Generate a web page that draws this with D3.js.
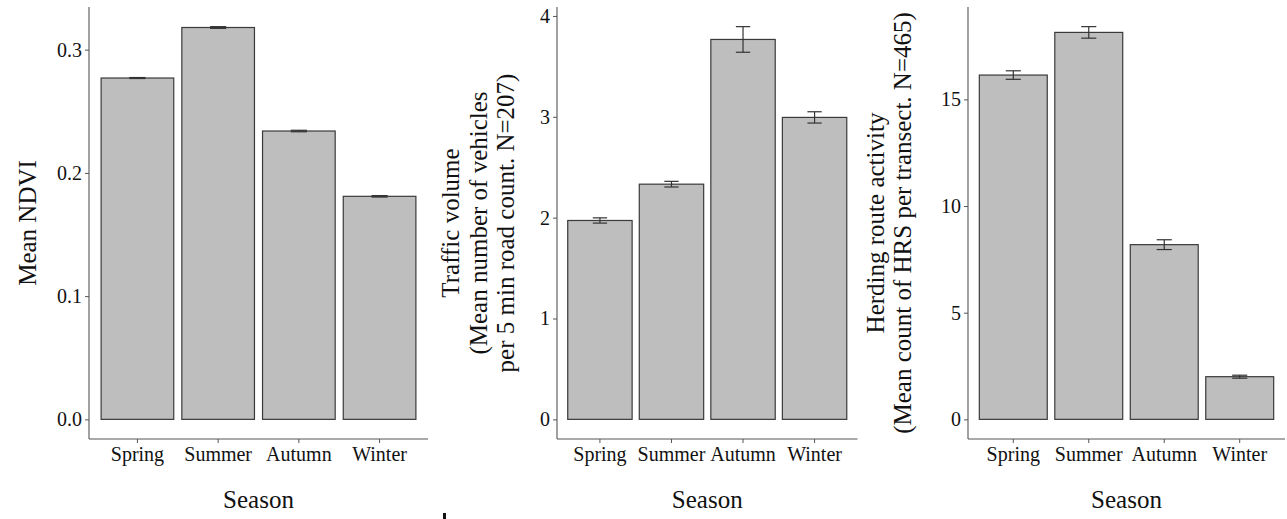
<!DOCTYPE html>
<html>
<head>
<meta charset="utf-8">
<script src="https://cdn.jsdelivr.net/npm/d3@7"></script>
<style>
  html, body { margin: 0; padding: 0; background: #fff; }
  svg { display: block; }
  text { font-family: "Liberation Serif", "Times New Roman", serif; fill: #111; }
</style>
</head>
<body>
<svg id="chart" width="1287" height="519"></svg>
<script>
// ---- data ----
const seasons = ["Spring", "Summer", "Autumn", "Winter"];

const ndviMean = [0.277, 0.318, 0.234, 0.181];
const ndviSE   = [0.0004, 0.0007, 0.0006, 0.0006];
const ndviTicks = [0.0, 0.1, 0.2, 0.3];

const trafficMean = [1.972, 2.332, 3.767, 2.994];
const trafficSE   = [0.026, 0.028, 0.127, 0.056];
const trafficTicks = [0, 1, 2, 3, 4];

const herdMean = [16.14, 18.14, 8.19, 2.00];
const herdSE   = [0.20, 0.27, 0.23, 0.07];
const herdTicks = [0, 5, 10, 15];

const xTitle = "Season";
const ndviTitle = ["Mean NDVI"];
const trafficTitle = ["Traffic volume", "(Mean number of vehicles", "per 5 min road count. N=207)"];
const herdTitle = ["Herding route activity", "(Mean count of HRS per transect. N=465)"];

// ---- layout ----
const svg = d3.select("#chart");
const plotTop = 7, plotBottom = 439;

const panels = [
  { x0: 89,  x1: 428,    mean: ndviMean,    se: ndviSE,    ticks: ndviTicks,    fmt: d3.format(".1f"), title: ndviTitle,    titleX: [36] },
  { x0: 557, x1: 857.5,  mean: trafficMean, se: trafficSE, ticks: trafficTicks, fmt: d3.format("d"),   title: trafficTitle, titleX: [459, 486.5, 514] },
  { x0: 968, x1: 1285,   mean: herdMean,    se: herdSE,    ticks: herdTicks,    fmt: d3.format("d"),   title: herdTitle,    titleX: [884, 911] }
];

const axisColor = "#555";
const barStroke = "#3a3a3a";

panels.forEach(p => {
  const maxV = d3.max(p.mean.map((m, i) => m + p.se[i]));
  const span = maxV - 0;
  const y = d3.scaleLinear()
    .domain([0 - 0.05 * span, maxV + 0.05 * span])
    .range([plotBottom, plotTop]);
  const x = d3.scaleBand()
    .domain(seasons)
    .range([p.x0, p.x1])
    .paddingInner(0.1)
    .paddingOuter(0.15)
    .align(0.5);
  const step = x.step();

  const g = svg.append("g");

  // bars
  g.selectAll("rect.bar")
    .data(seasons)
    .enter().append("rect")
    .attr("class", "bar")
    .attr("x", d => x(d))
    .attr("width", x.bandwidth())
    .attr("y", (d, i) => y(p.mean[i]))
    .attr("height", (d, i) => y(0) - y(p.mean[i]))
    .attr("fill", "#bebebe")
    .attr("stroke", barStroke)
    .attr("stroke-width", 1.2);

  // error bars
  const capW = 0.2 * step;
  seasons.forEach((s, i) => {
    const cx = x(s) + x.bandwidth() / 2;
    const yh = y(p.mean[i] + p.se[i]);
    const yl = y(p.mean[i] - p.se[i]);
    const eg = g.append("g").attr("stroke", "#333").attr("stroke-width", 1.2).attr("fill", "none");
    eg.append("line").attr("x1", cx).attr("x2", cx).attr("y1", yh).attr("y2", yl);
    eg.append("line").attr("x1", cx - capW / 2).attr("x2", cx + capW / 2).attr("y1", yh).attr("y2", yh);
    eg.append("line").attr("x1", cx - capW / 2).attr("x2", cx + capW / 2).attr("y1", yl).attr("y2", yl);
  });

  // y axis
  const yAxis = d3.axisLeft(y).tickValues(p.ticks).tickFormat(p.fmt).tickSize(4).tickPadding(3);
  const ya = g.append("g").attr("transform", `translate(${p.x0},0)`).call(yAxis);
  ya.select(".domain").attr("d", `M0,${plotTop}V${plotBottom}`).attr("stroke", axisColor).attr("stroke-width", 1.1);
  ya.selectAll(".tick line").attr("stroke", axisColor);
  ya.selectAll(".tick text").attr("font-size", 20).attr("font-family", "Liberation Serif").attr("fill", "#111");

  // x axis
  const xAxis = d3.axisBottom(x).tickSize(4).tickPadding(4);
  const xa = g.append("g").attr("transform", `translate(0,${plotBottom})`).call(xAxis);
  xa.select(".domain").attr("d", `M${p.x0},0H${p.x1}`).attr("stroke", axisColor).attr("stroke-width", 1.1);
  xa.selectAll(".tick line").attr("stroke", axisColor);
  xa.selectAll(".tick text").attr("font-size", 20).attr("font-family", "Liberation Serif").attr("fill", "#111");

  // x title
  g.append("text")
    .attr("x", (p.x0 + p.x1) / 2)
    .attr("y", 508)
    .attr("text-anchor", "middle")
    .attr("font-size", 25)
    .text(xTitle);

  // y title (rotated)
  const cy = 223;
  p.title.forEach((line, k) => {
    g.append("text")
      .attr("transform", `translate(${p.titleX[k]},${cy}) rotate(-90)`)
      .attr("text-anchor", "middle")
      .attr("font-size", 25)
      .text(line);
  });
});

// small stray mark present in the reference image
svg.append("rect").attr("x", 443).attr("y", 513).attr("width", 3).attr("height", 6).attr("fill", "#111");
</script>
</body>
</html>
